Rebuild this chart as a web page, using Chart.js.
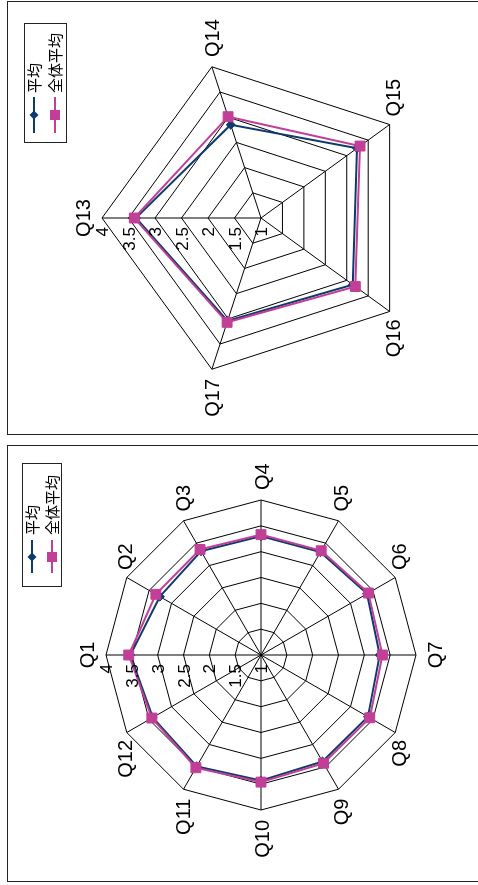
<!DOCTYPE html>
<html><head><meta charset="utf-8">
<script src="https://cdn.jsdelivr.net/npm/chart.js@4.4.1/dist/chart.umd.min.js"></script>
<style>
html,body{margin:0;padding:0;overflow:hidden;background:#fff;width:478px;height:885px;}
#stage{position:absolute;left:0;top:0;width:885px;height:478px;transform-origin:0 0;transform:translate(0,885px) rotate(-90deg);background:#fff;}
.frame{position:absolute;border:1px solid #222;box-sizing:border-box;}
canvas{position:absolute;left:0;top:0;}
.legend{position:absolute;border:1px solid #222;background:#fff;box-sizing:border-box;}
</style></head>
<body>
<div id="stage">
  <div class="frame" style="left:3px;top:7px;width:437px;height:520px;"></div>
  <div class="frame" style="left:450px;top:7px;width:434px;height:520px;"></div>
  <canvas id="cA" width="885" height="478"></canvas>
  <canvas id="cB" width="885" height="478"></canvas>
</div>
<script>
// ---- data ----
const seriesNames = ['平均', '全体平均'];
const labelsA = ['Q1','Q2','Q3','Q4','Q5','Q6','Q7','Q8','Q9','Q10','Q11','Q12'];
const heikinA = [3.53, 3.26, 3.32, 3.30, 3.30, 3.37, 3.30, 3.39, 3.38, 3.43, 3.49, 3.42];
const zentaiA = [3.56, 3.35, 3.36, 3.33, 3.33, 3.40, 3.35, 3.43, 3.42, 3.46, 3.52, 3.44];
const labelsB = ['Q13','Q14','Q15','Q16','Q17'];
const heikinB = [3.36, 2.85, 3.24, 3.14, 3.04];
const zentaiB = [3.39, 3.01, 3.31, 3.20, 3.07];
const tickValues = [1, 1.5, 2, 2.5, 3, 3.5, 4];
const tickLabels = ['1', '1.5', '2', '2.5', '3', '3.5', '4'];

const BLUE = '#0f3a6e';
const PINK = '#c23f98';
const FONT = '"Liberation Sans", Arial, sans-serif';

const labelPlugin = {
  id: 'customLabels',
  afterDraw(chart) {
    const s = chart.scales.r;
    const ctx = chart.ctx;
    const labels = chart.data.labels;
    const n = labels.length;
    ctx.save();
    ctx.fillStyle = '#000';
    // point labels
    ctx.font = '20px ' + FONT;
    labels.forEach((lab, i) => {
      const a = i * 360 / n;
      const rad = a * Math.PI / 180;
      const p = s.getPointPosition(i, s.drawingArea);
      let x = p.x, y;
      const sn = Math.sin(rad), cs = Math.cos(rad);
      if (Math.abs(sn) < 1e-6) {
        ctx.textAlign = 'center';
        y = cs > 0 ? p.y - 12 : p.y + 26;
      } else {
        const off = 5 + 5 * Math.abs(sn);
        if (sn > 0) { ctx.textAlign = 'left'; x = p.x + off; }
        else { ctx.textAlign = 'right'; x = p.x - off; }
        y = p.y - 3 * cs + 1 + 7;
      }
      ctx.textBaseline = 'alphabetic';
      ctx.fillText(lab, x, y);
    });
    // tick labels
    ctx.font = '17px ' + FONT;
    ctx.textAlign = 'right';
    ctx.textBaseline = 'alphabetic';
    tickValues.forEach((v, i) => {
      const d = s.getDistanceFromCenterForValue(v);
      ctx.fillText(tickLabels[i], s.xCenter - 9, s.yCenter - d + 6);
    });
    ctx.restore();
  }
};

function makeChart(id, labels, d1, d2, pad) {
  return new Chart(document.getElementById(id), {
    type: 'radar',
    data: {
      labels: labels,
      datasets: [
        { label: seriesNames[0], data: d1, borderColor: BLUE, backgroundColor: BLUE,
          borderWidth: 2, pointStyle: 'rectRot', pointRadius: 4.5, pointBorderWidth: 1,
          pointBackgroundColor: BLUE, pointBorderColor: BLUE, fill: false, order: 1 },
        { label: seriesNames[1], data: d2, borderColor: PINK, backgroundColor: PINK,
          borderWidth: 2, pointStyle: 'rect', pointRadius: 7, pointBorderWidth: 1,
          pointBackgroundColor: PINK, pointBorderColor: PINK, fill: false, order: 0 }
      ]
    },
    options: {
      responsive: false,
      animation: false,
      layout: { padding: pad },
      plugins: { legend: { display: false }, tooltip: { enabled: false }, title: { display: false } },
      elements: { line: { tension: 0 } },
      scales: {
        r: {
          min: 1, max: 4, beginAtZero: false,
          ticks: { stepSize: 0.5, display: false },
          grid: { color: '#000', lineWidth: 1, circular: false },
          angleLines: { color: '#000', lineWidth: 1 },
          pointLabels: { display: false }
        }
      }
    },
    plugins: [labelPlugin]
  });
}

makeChart('cA', labelsA, heikinA, zentaiA, { left: 75, right: 499, top: 106, bottom: 62 });
makeChart('cB', labelsB, heikinB, zentaiB, { left: 508, right: 59, top: 102, bottom: 58 });

// ---- legends ----
function buildLegend(cfg) {
  const box = document.createElement('div');
  box.className = 'legend';
  Object.assign(box.style, { left: cfg.x + 'px', top: cfg.y + 'px', width: cfg.w + 'px', height: cfg.h + 'px' });
  const colors = [BLUE, PINK];
  let svg = `<svg width="${cfg.w}" height="${cfg.h}" style="position:absolute;left:-1px;top:-1px">`;
  seriesNames.forEach((name, i) => {
    const cy = cfg.rows[i];
    svg += `<line x1="${cfg.l1}" y1="${cy}" x2="${cfg.l2}" y2="${cy}" stroke="${colors[i]}" stroke-width="2"/>`;
    if (i === 0) {
      const m = cfg.mx, r = 4.5;
      svg += `<polygon points="${m},${cy - r} ${m + r},${cy} ${m},${cy + r} ${m - r},${cy}" fill="${colors[i]}"/>`;
    } else {
      svg += `<rect x="${cfg.mx - 5}" y="${cy - 5}" width="10" height="10" fill="${colors[i]}"/>`;
    }
    svg += `<text x="${cfg.tx}" y="${cy + 5.5}" font-family="'Noto Sans CJK JP'" font-size="15" fill="#000">${name}</text>`;
  });
  svg += '</svg>';
  box.innerHTML = svg;
  document.getElementById('stage').appendChild(box);
}
buildLegend({ x: 298, y: 22, w: 124, h: 40, rows: [10, 30], l1: 14, l2: 47, mx: 30, tx: 52 });
buildLegend({ x: 742, y: 24, w: 120, h: 43, rows: [10, 31], l1: 10, l2: 46, mx: 28, tx: 50 });
</script>
</body></html>
